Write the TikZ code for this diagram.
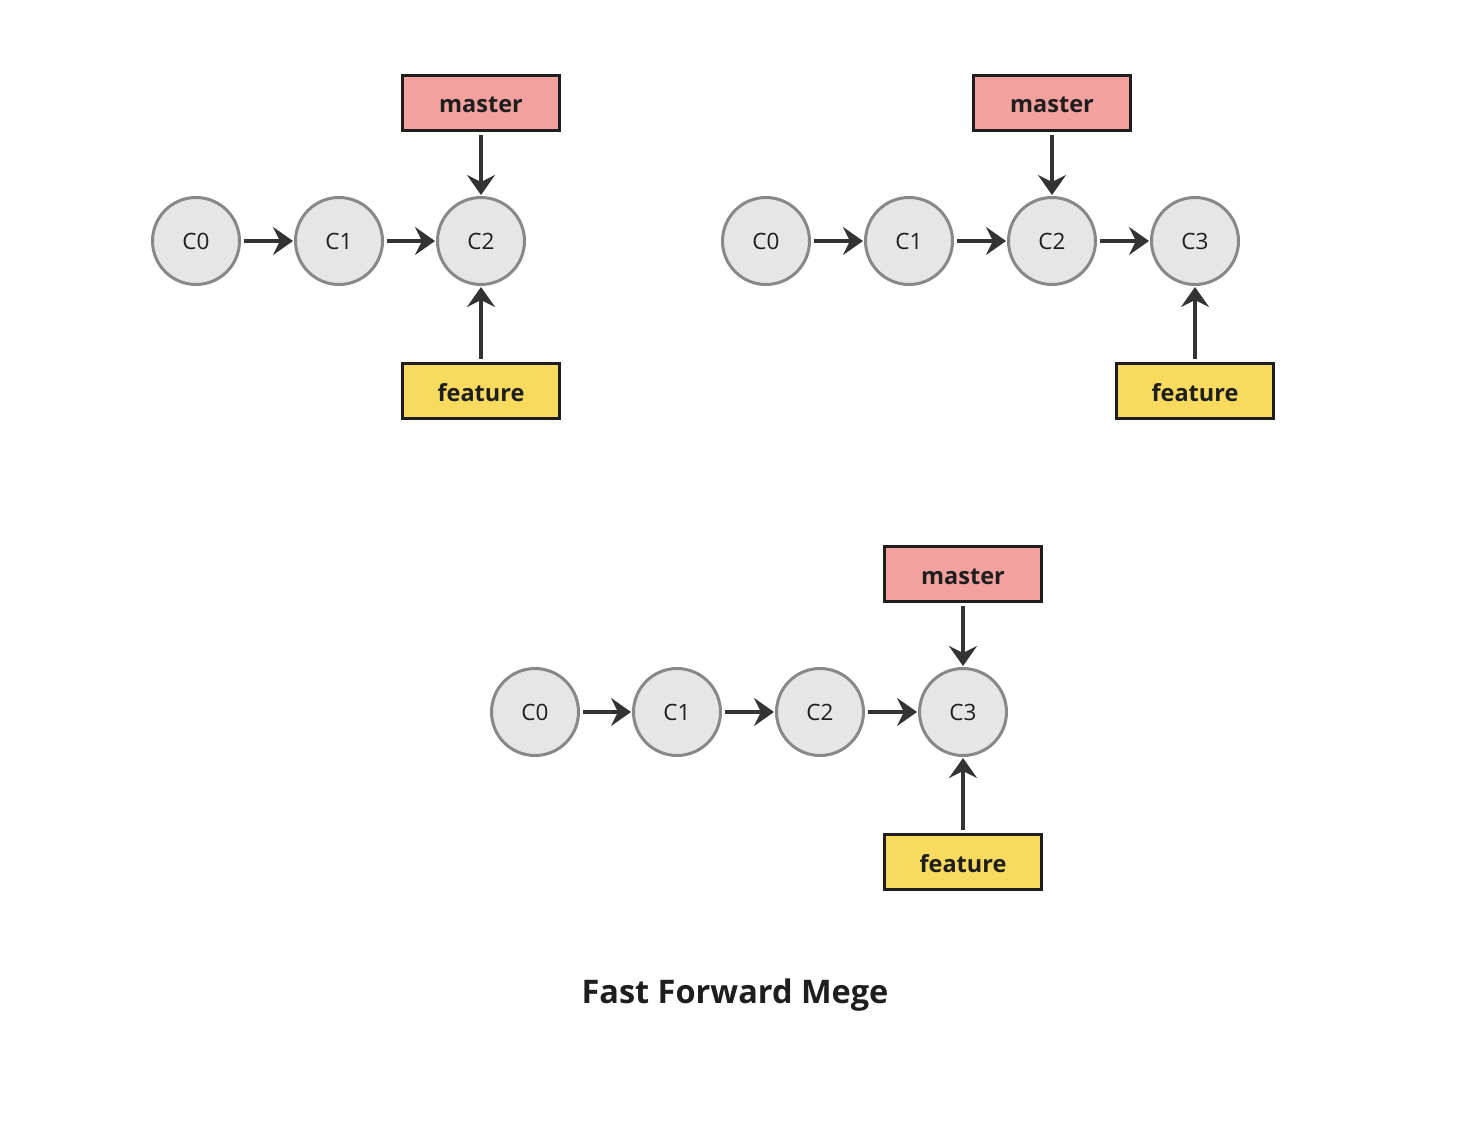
\documentclass[tikz,border=0pt]{standalone}
\usepackage{fontspec}
\setmainfont{Open Sans}
\usetikzlibrary{arrows.meta}
\definecolor{cfill}{HTML}{E6E6E6}
\definecolor{cline}{HTML}{888888}
\definecolor{mfill}{HTML}{F2A19E}
\definecolor{ffill}{HTML}{F7DA5E}
\definecolor{ink}{HTML}{333333}
\definecolor{txt}{HTML}{1E1E1E}
\begin{document}
\begin{tikzpicture}[x=1pt,y=-1pt,
  commit/.style={circle, draw=cline, fill=cfill, line width=3pt, minimum size=87pt, inner sep=0pt, font=\fontsize{22.5}{26}\selectfont, text=txt},
  master/.style={rectangle, draw=txt, fill=mfill, line width=3pt, minimum width=157pt, minimum height=55pt, inner sep=0pt, text depth=0pt, text height=20pt, font=\fontsize{23.5}{28}\selectfont\bfseries, text=txt},
  feature/.style={master, fill=ffill},
  link/.style={draw=ink, line width=3.5pt, -{Stealth[length=20pt,width=28pt,inset=7pt]}},
  gap/.style={shorten <=3pt, shorten >=1pt}
]
\useasboundingbox (0,0) rectangle (1470,1142);
\fill[white] (0,0) rectangle (1470,1142);
% group 1
\node[commit] (a0) at (196,241) {C0};
\node[commit] (a1) at (339,241) {C1};
\node[commit] (a2) at (481,241) {C2};
\node[master] (am) at (481,103) {master};
\node[feature] (af) at (481,391) {feature};
\draw[link,gap] (a0) -- (a1);
\draw[link,gap] (a1) -- (a2);
\draw[link,gap] (am) -- (a2);
\draw[link,gap] (af) -- (a2);
% group 2
\node[commit] (b0) at (766,241) {C0};
\node[commit] (b1) at (909,241) {C1};
\node[commit] (b2) at (1052,241) {C2};
\node[commit] (b3) at (1195,241) {C3};
\node[master] (bm) at (1052,103) {master};
\node[feature] (bf) at (1195,391) {feature};
\draw[link,gap] (b0) -- (b1);
\draw[link,gap] (b1) -- (b2);
\draw[link,gap] (b2) -- (b3);
\draw[link,gap] (bm) -- (b2);
\draw[link,gap] (bf) -- (b3);
% group 3
\node[commit] (c0) at (535,712) {C0};
\node[commit] (c1) at (677,712) {C1};
\node[commit] (c2) at (820,712) {C2};
\node[commit] (c3) at (963,712) {C3};
\node[master] (cm) at (963,574) {master};
\node[feature] (cf) at (963,862) {feature};
\draw[link,gap] (c0) -- (c1);
\draw[link,gap] (c1) -- (c2);
\draw[link,gap] (c2) -- (c3);
\draw[link,gap] (cm) -- (c3);
\draw[link,gap] (cf) -- (c3);
% title
\node[font=\fontsize{32.5}{38}\selectfont\bfseries, text=txt] (title) at (735,995) {Fast Forward Mege};
\end{tikzpicture}
\end{document}
